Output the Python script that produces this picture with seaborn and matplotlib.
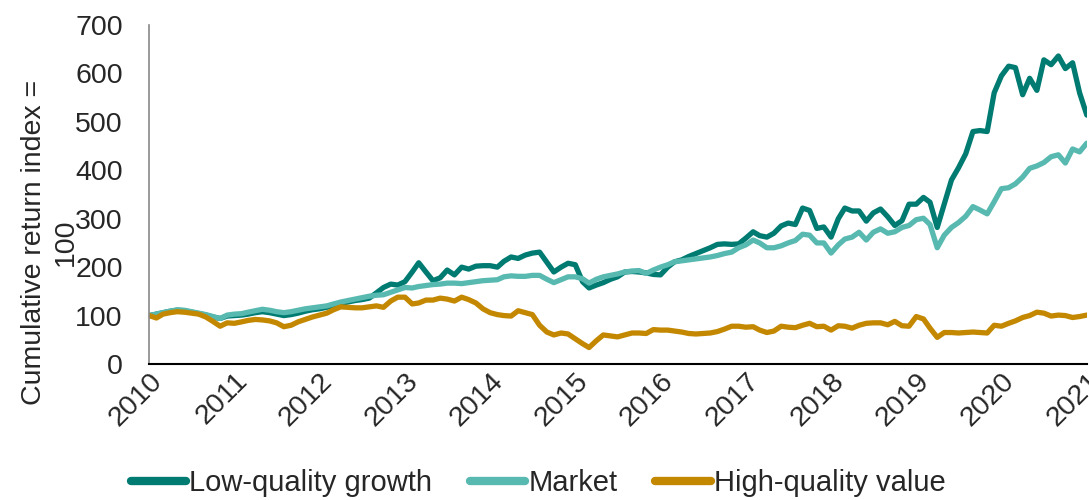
import numpy as np
import pandas as pd
import matplotlib
matplotlib.use('Agg')
import matplotlib.pyplot as plt
import seaborn as sns

# monthly index values, Jan 2010 .. Jan 2021
low_quality_growth = [
    100, 103, 106, 109, 111, 110, 107, 104, 101, 97, 94, 99,
    100, 101, 103, 106, 108, 106, 103, 100, 102, 105, 109, 112,
    114, 117, 120, 125, 128, 131, 133, 136, 147, 158, 165, 163,
    170, 190, 209, 190, 172, 178, 194, 184, 200, 196, 202, 203,
    203, 200, 212, 221, 218, 225, 229, 231, 210, 190, 200, 208,
    205, 170, 157, 163, 168, 175, 180, 190, 191, 190, 188, 185,
    184, 200, 211, 215, 222, 228, 234, 240, 247, 248, 247, 248,
    260, 273, 265, 262, 270, 285, 291, 288, 322, 317, 280, 283,
    262, 300, 322, 316, 316, 295, 312, 320, 304, 286, 296, 330,
    330, 344, 334, 282, 330, 380, 405, 434, 480, 482, 480, 560,
    595, 615, 612, 556, 590, 565, 628, 618, 636, 610, 622, 560,
    514,
]
market = [
    100, 103, 106, 109, 112, 111, 108, 105, 102, 98, 94, 101,
    103, 104, 107, 110, 113, 111, 108, 106, 108, 111, 114, 116,
    118, 120, 124, 128, 131, 134, 137, 140, 142, 143, 148, 153,
    158, 157, 160, 162, 164, 165, 167, 167, 166, 168, 170, 172,
    173, 174, 180, 182, 181, 181, 183, 183, 175, 168, 174, 180,
    180, 176, 167, 175, 180, 183, 186, 190, 192, 193, 187, 194,
    200, 205, 211, 213, 215, 217, 219, 221, 224, 228, 231, 240,
    246, 256, 250, 240, 240, 244, 250, 255, 268, 266, 250, 250,
    229, 246, 258, 262, 272, 256, 272, 279, 270, 273, 282, 286,
    298, 301, 288, 240, 266, 282, 292, 305, 325, 318, 310, 335,
    362, 364, 372, 386, 404, 409, 416, 428, 432, 415, 444, 438,
    456,
]
high_quality_value = [
    100, 95, 103, 106, 108, 107, 105, 103, 97, 88, 78, 85,
    84, 87, 90, 92, 91, 89, 85, 77, 80, 87, 92, 97,
    101, 105, 112, 118, 117, 116, 116, 118, 120, 117, 130, 138,
    138, 124, 126, 132, 132, 136, 134, 130, 138, 133, 126, 114,
    106, 102, 100, 99, 110, 106, 102, 80, 66, 60, 64, 62,
    52, 42, 34, 48, 60, 58, 56, 60, 64, 64, 63, 71,
    70, 70, 68, 66, 63, 62, 63, 64, 67, 72, 78, 78,
    76, 77, 70, 65, 68, 78, 76, 75, 80, 84, 77, 78,
    70, 79, 78, 74, 80, 84, 85, 85, 81, 88, 79, 78,
    98, 93, 74, 55, 65, 65, 64, 65, 66, 65, 64, 80,
    78, 84, 89, 96, 100, 107, 105, 99, 101, 100, 96, 98,
    101,
]
series_names = ['Low-quality growth', 'Market', 'High-quality value']
colors = ['#007b72', '#58b9b0', '#c48800']
years = list(range(2010, 2022))

dates = pd.date_range('2010-01-01', periods=len(market), freq='MS')
df = pd.concat([
    pd.DataFrame({'date': dates, 'value': vals, 'series': name})
    for name, vals in zip(series_names, [low_quality_growth, market, high_quality_value])
])

sns.set_theme(style='white')
plt.rcParams['font.family'] = ['Liberation Sans', 'DejaVu Sans']

fig = plt.figure(figsize=(10.89, 5.0), dpi=100)
ax = fig.add_axes([0.137, 0.272, 0.861, 0.678])

sns.lineplot(data=df, x='date', y='value', hue='series', hue_order=series_names,
             palette=colors, linewidth=3.8, ax=ax, legend=True)

ax.set_ylim(0, 700)
ax.set_yticks(range(0, 701, 100))
ax.set_xlim(dates[0], dates[-1])
tick_dates = pd.to_datetime([f'{y}-01-01' for y in years])
ax.set_xticks(tick_dates)
ax.set_xticklabels([str(y) for y in years], rotation=45, ha='right',
                   rotation_mode='anchor', fontsize=20.5)
ax.tick_params(axis='y', labelsize=20.5, length=0, pad=19)
ax.tick_params(axis='x', length=0, pad=3)
ax.set_xlabel('')
ax.set_ylabel('Cumulative return index =\n100', fontsize=20.5, ha='center',
              va='center', linespacing=1.3)
ax.yaxis.set_label_coords(-0.106, 0.36)

for s in ['top', 'right']:
    ax.spines[s].set_visible(False)
ax.spines['left'].set_color('#888888')
ax.spines['bottom'].set_color('#000000')
ax.spines['left'].set_linewidth(1.2)
ax.spines['bottom'].set_linewidth(1.5)

handles, labels = ax.get_legend_handles_labels()
for h in handles:
    h.set_linewidth(6)
    h.set_solid_capstyle('round')
ax.legend(handles, labels, loc='center', bbox_to_anchor=(0.494, 0.034),
          bbox_transform=fig.transFigure, ncol=3, frameon=False, fontsize=21,
          handlelength=1.9, handletextpad=0.1, columnspacing=1.3)

plt.savefig('out.png', dpi=100)
